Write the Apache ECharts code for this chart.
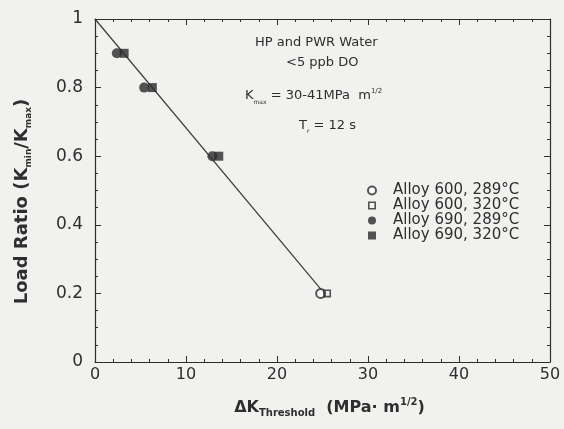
<!DOCTYPE html>
<html>
<head>
<meta charset="utf-8">
<script src="https://cdn.jsdelivr.net/npm/echarts@6/dist/echarts.min.js"></script>
<style>
  html, body { margin: 0; padding: 0; background: #f1f1ef; }
  #chart { width: 564px; height: 429px; }
</style>
</head>
<body>
<div id="chart"></div>
<script>
// Series names
const seriesNames = ['Alloy 600, 289°C', 'Alloy 600, 320°C', 'Alloy 690, 289°C', 'Alloy 690, 320°C'];

// Data: [ΔK threshold (MPa·m^1/2), load ratio R]
const alloy600_289 = [[24.8, 0.2]];
const alloy600_320 = [[25.5, 0.2]];
const alloy690_289 = [[2.4, 0.9], [5.4, 0.8], [12.9, 0.6]];
const alloy690_320 = [[3.2, 0.9], [6.3, 0.8], [13.6, 0.6]];

// Fitted trend line
const fitLine = [[0, 1.0], [25.2, 0.2]];

// Axis ticks
const xTicks = [0, 10, 20, 30, 40, 50];
const yTicks = [0, 0.2, 0.4, 0.6, 0.8, 1];

const ink = '#2e2e2e';
const fontFam = '"DejaVu Sans", "Liberation Sans", Arial, sans-serif';

const chart = echarts.init(document.getElementById('chart'));

function frameAxis(extra, minorSplit, showLabels) {
  return Object.assign({
    type: 'value',
    axisLine: { show: true, onZero: false, lineStyle: { color: ink, width: 1.2 } },
    axisTick: { show: true, inside: true, length: 6, lineStyle: { color: ink, width: 1 } },
    minorTick: { show: true, splitNumber: minorSplit, length: 3, lineStyle: { color: ink, width: 1 } },
    splitLine: { show: false },
    minorSplitLine: { show: false },
    axisLabel: { show: showLabels, color: ink, fontSize: 16, fontFamily: fontFam }
  }, extra);
}

const markerColor = '#2a2a2a';

chart.setOption({
  backgroundColor: '#f1f1ef',
  animation: false,
  grid: { left: 95, right: 14, top: 19, bottom: 67, containLabel: false },
  xAxis: [
    frameAxis({
      min: xTicks[0], max: xTicks[xTicks.length - 1], interval: 10, position: 'bottom',
      axisLabel: { show: true, color: ink, fontSize: 16, fontFamily: fontFam, margin: 5 },
      name: '{n|ΔK}{s|Threshold}{n|  (MPa· m}{p|1/2}{n|)}',
      nameLocation: 'middle', nameGap: 35,
      nameTextStyle: {
        color: ink, fontFamily: fontFam, padding: [0, 0, 0, 14],
        rich: {
          n: { fontSize: 16, fontWeight: 'bold', color: ink, fontFamily: fontFam },
          s: { fontSize: 10, fontWeight: 'bold', color: ink, fontFamily: fontFam, verticalAlign: 'bottom', padding: [11, 0, 0, 0] },
          p: { fontSize: 10, fontWeight: 'bold', color: ink, fontFamily: fontFam, verticalAlign: 'top', padding: [0, 0, 9, 0] }
        }
      }
    }, 5, true),
    frameAxis({ min: 0, max: 50, interval: 10, position: 'top' }, 5, false)
  ],
  yAxis: [
    frameAxis({
      min: yTicks[0], max: yTicks[yTicks.length - 1], interval: 0.2, position: 'left',
      axisLabel: { show: true, color: ink, fontSize: 17, fontFamily: fontFam, margin: 12 },
      name: '{n|Load Ratio (K}{s|min}{n|/K}{s|max}{n|)}',
      nameLocation: 'middle', nameGap: 62, nameRotate: 90,
      nameTextStyle: {
        color: ink, fontFamily: fontFam, padding: [0, 22, 0, 0],
        rich: {
          n: { fontSize: 18, fontWeight: 'bold', color: ink, fontFamily: fontFam },
          s: { fontSize: 9, fontWeight: 'bold', color: ink, fontFamily: fontFam, verticalAlign: 'bottom', padding: [12, 0, 0, 0] }
        }
      }
    }, 4, true),
    frameAxis({ min: 0, max: 1, interval: 0.2, position: 'right' }, 4, false)
  ],
  legend: {
    orient: 'vertical', left: 362, top: 178,
    itemWidth: 8, itemHeight: 8, itemGap: 0,
    textStyle: { color: ink, fontSize: 15, lineHeight: 14, fontFamily: fontFam, padding: [0, 0, 0, 12] },
    data: seriesNames
  },
  graphic: [
    { type: 'text', left: 255, top: 36, style: { text: 'HP and PWR Water', font: '13px "DejaVu Sans", sans-serif', fill: ink } },
    { type: 'text', left: 286, top: 56, style: { text: '<5 ppb DO', font: '13px "DejaVu Sans", sans-serif', fill: ink } },
    { type: 'text', left: 245, top: 88, style: {
        text: '{n|K}{s|max}{n| = 30-41MPa  m}{p|1/2}',
        rich: {
          n: { fontSize: 13, fontFamily: fontFam, fill: ink },
          s: { fontSize: 6, fontFamily: fontFam, fill: ink, padding: [13, 0, 0, 0] },
          p: { fontSize: 7, fontFamily: fontFam, fill: ink, padding: [0, 0, 9, 0] }
        }
      } },
    { type: 'text', left: 299, top: 119, style: {
        text: '{n|T}{s|r}{n| = 12 s}',
        rich: {
          n: { fontSize: 13, fontFamily: fontFam, fill: ink },
          s: { fontSize: 6, fontFamily: fontFam, fill: ink, padding: [11, 0, 0, 0] }
        }
      } }
  ],
  series: [
    {
      name: 'fit', type: 'line', data: fitLine, symbol: 'none', silent: true,
      lineStyle: { color: '#3a3a3a', width: 1.2 }, z: 1
    },
    {
      name: seriesNames[0], type: 'scatter', data: alloy600_289,
      symbol: 'emptyCircle', symbolSize: 9,
      itemStyle: { color: markerColor, borderColor: markerColor, borderWidth: 1.5 }
    },
    {
      name: seriesNames[1], type: 'scatter', data: alloy600_320,
      symbol: 'path://M0,0 L10,0 L10,10 L0,10 Z M2,2 L2,8 L8,8 L8,2 Z', symbolSize: 8,
      itemStyle: { color: markerColor }
    },
    {
      name: seriesNames[2], type: 'scatter', data: alloy690_289,
      symbol: 'circle', symbolSize: 10,
      itemStyle: { color: markerColor }
    },
    {
      name: seriesNames[3], type: 'scatter', data: alloy690_320,
      symbol: 'rect', symbolSize: 9,
      itemStyle: { color: markerColor }
    }
  ]
});
</script>
</body>
</html>
